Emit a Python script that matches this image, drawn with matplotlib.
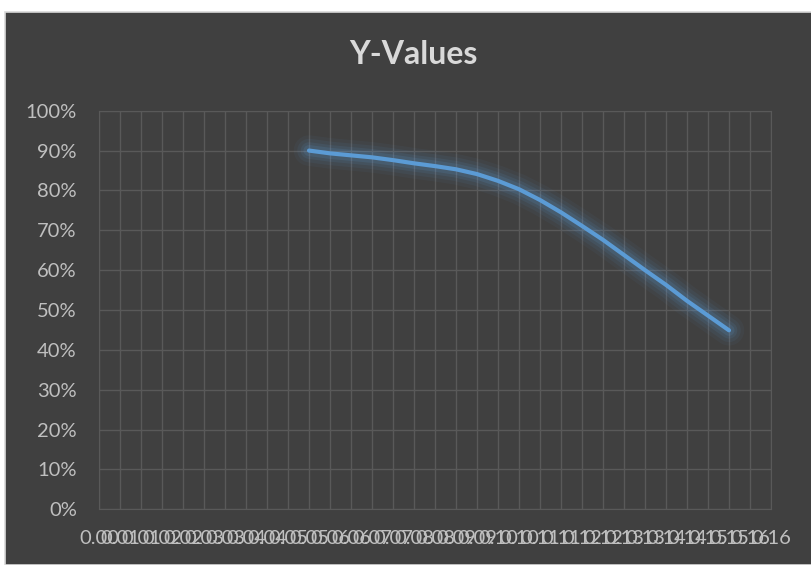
import numpy as np
import matplotlib
matplotlib.use('Agg')
import matplotlib.pyplot as plt
from matplotlib.patches import Rectangle

# values (x, y as fraction)
x_vals = [0.050, 0.055, 0.060, 0.065, 0.070, 0.075, 0.080, 0.085, 0.090, 0.095, 0.100,
          0.105, 0.110, 0.115, 0.120, 0.125, 0.130, 0.135, 0.140, 0.145, 0.150]
y_vals = [0.900, 0.893, 0.888, 0.883, 0.876, 0.868, 0.861, 0.853, 0.841, 0.824, 0.803,
          0.776, 0.745, 0.711, 0.676, 0.638, 0.600, 0.563, 0.523, 0.486, 0.449]

x_ticks = np.arange(0, 0.1601, 0.005)
x_labels = ['0.00', '0.01', '0.01', '0.02', '0.02', '0.03', '0.03', '0.04', '0.04', '0.05',
            '0.05', '0.06', '0.06', '0.07', '0.07', '0.08', '0.08', '0.09', '0.09', '0.10',
            '0.10', '0.11', '0.11', '0.12', '0.12', '0.13', '0.13', '0.14', '0.14', '0.15',
            '0.15', '0.16', '0.16']
y_ticks = np.arange(0, 1.01, 0.1)
y_labels = [f'{int(round(v * 100))}%' for v in y_ticks]

bg = '#404040'
grid = '#595959'
txt = '#d9d9d9'
blue = '#5b9bd5'

plt.rcParams['font.family'] = ['Lato', 'DejaVu Sans']

fig = plt.figure(figsize=(8.12, 5.65), dpi=100)
fig.patch.set_facecolor('white')
fig.patches.append(Rectangle((5 / 812, 0), 1, 1 - 12 / 565, transform=fig.transFigure,
                             facecolor=bg, edgecolor='#d9d9d9', linewidth=1.2, zorder=-5))

ax = fig.add_axes([99 / 812, 1 - 509.3 / 565, 672 / 812, 398.6 / 565])
ax.set_facecolor(bg)

# glow around the line
for lw, a in [(22, 0.05), (17, 0.07), (12, 0.10), (8, 0.14)]:
    ax.plot(x_vals, y_vals, color=blue, lw=lw, alpha=a, solid_capstyle='round', zorder=2)
ax.plot(x_vals, y_vals, color=blue, lw=3, solid_capstyle='round', zorder=3)

ax.set_xlim(0, 0.16)
ax.set_ylim(0, 1)
ax.set_xticks(x_ticks)
ax.set_xticklabels(x_labels)
ax.set_yticks(y_ticks)
ax.set_yticklabels(y_labels)
ax.grid(True, color=grid, lw=1)
ax.set_axisbelow(True)
for s in ax.spines.values():
    s.set_color(grid)
ax.tick_params(length=0, colors='#bfbfbf', labelsize=14.5)
ax.tick_params(axis='y', pad=16)
ax.tick_params(axis='x', pad=15)

fig.text(413 / 812, 1 - 55 / 565, 'Y-Values', ha='center', va='center',
         fontsize=23, fontweight='bold', color=txt)

fig.savefig('out.png', dpi=100, facecolor=fig.get_facecolor())
